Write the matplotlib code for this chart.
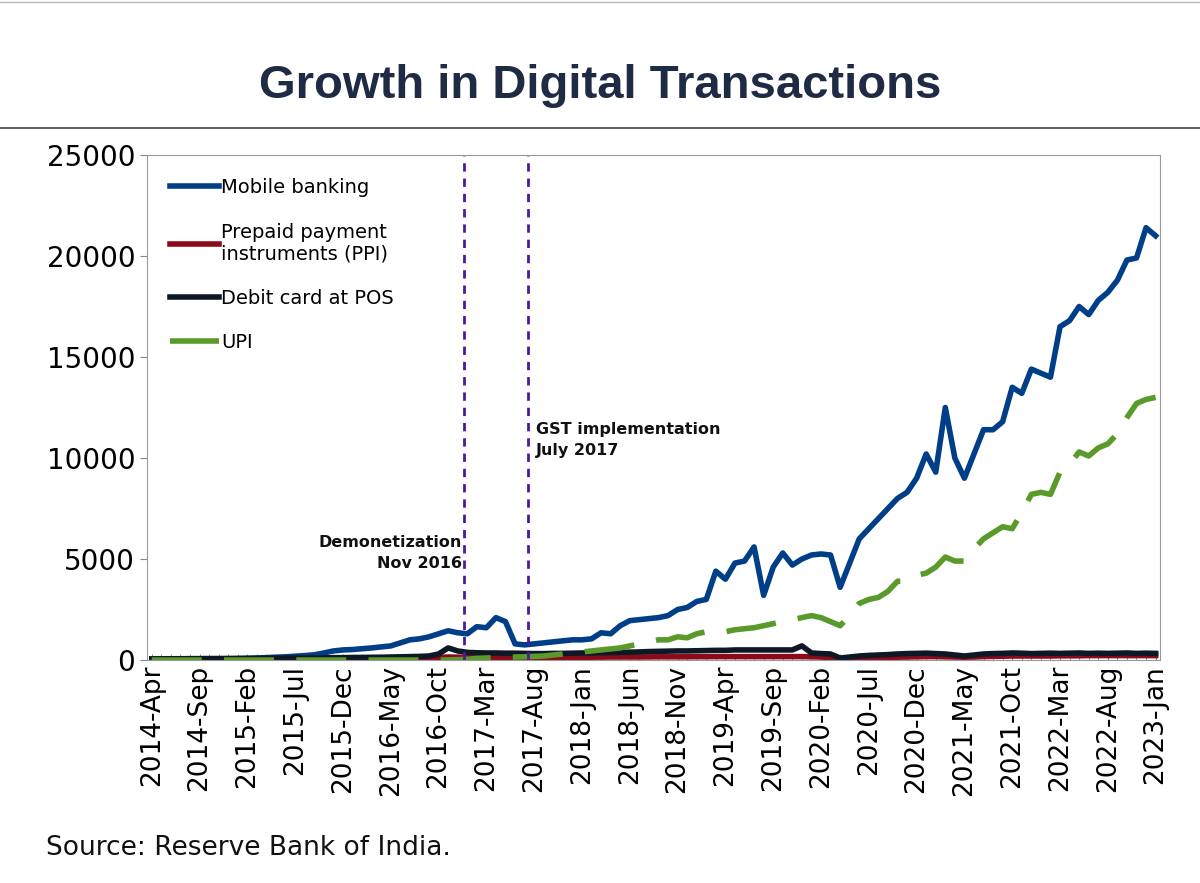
import numpy as np
import pandas as pd
import matplotlib
matplotlib.use("Agg")
import matplotlib.pyplot as plt

months = pd.date_range("2014-04-01", "2023-01-01", freq="MS")
month_labels = [d.strftime("%Y-%b") for d in months]

mobile_banking = [20, 25, 30, 35, 40, 45, 50, 55, 60, 70,
                  80, 100, 120, 140, 160, 190, 220, 260, 350, 450,
                  500, 520, 560, 600, 650, 700, 850, 1000, 1050, 1150,
                  1300, 1450, 1350, 1300, 1650, 1600, 2100, 1900, 800, 750,
                  800, 850, 900, 950, 1000, 1000, 1050, 1350, 1300, 1700,
                  1950, 2000, 2050, 2100, 2200, 2500, 2600, 2900, 3000, 4400,
                  4000, 4800, 4900, 5600, 3200, 4600, 5300, 4700, 5000, 5200,
                  5250, 5200, 3600, 4800, 6000, 6500, 7000, 7500, 8000, 8300,
                  9000, 10200, 9300, 12500, 10000, 9000, 10200, 11400, 11400, 11800,
                  13500, 13200, 14400, 14200, 14000, 16500, 16800, 17500, 17100, 17800,
                  18200, 18800, 19800, 19900, 21400, 21000]

upi = [0] * 28 + [0, 0, 0, 5, 20, 40, 80, 100,
                  120, 130, 150, 160, 180, 200, 250, 300, 350, 400,
                  450, 500, 550, 600, 700, 800, 900, 1000, 1000, 1150,
                  1100, 1300, 1400, 1400, 1400, 1500, 1550, 1600, 1700, 1800,
                  1900, 2000, 2100, 2200, 2100, 1900, 1700, 2200, 2800, 3000,
                  3100, 3400, 3900, 3900, 4200, 4300, 4600, 5100, 4900, 4900,
                  5500, 6000, 6300, 6600, 6500, 7300, 8200, 8300, 8200, 9300,
                  9700, 10300, 10100, 10500, 10700, 11200, 12000, 12700, 12900, 13000]

debit_pos = [60, 60, 65, 65, 70, 70, 75, 75, 80, 80,
             85, 85, 90, 90, 95, 100, 100, 105, 110, 115,
             120, 125, 130, 135, 140, 150, 160, 170, 180, 200,
             300, 600, 450, 380, 360, 350, 350, 340, 340, 330,
             320, 320, 330, 330, 340, 350, 350, 360, 370, 380,
             390, 400, 420, 430, 440, 450, 450, 460, 470, 480,
             480, 500, 500, 500, 500, 500, 500, 500, 700, 350,
             320, 300, 100, 150, 200, 230, 250, 270, 300, 320,
             330, 340, 320, 300, 250, 200, 250, 300, 320, 330,
             350, 340, 320, 330, 340, 330, 340, 350, 330, 340,
             330, 340, 350, 330, 340, 330]

ppi = [20, 20, 22, 22, 25, 25, 28, 28, 30, 30,
       32, 32, 35, 35, 38, 40, 42, 45, 48, 50,
       55, 60, 65, 70, 75, 80, 85, 90, 100, 110,
       130, 150, 140, 130, 130, 125, 120, 120, 120, 120,
       120, 125, 130, 130, 135, 140, 140, 145, 150, 150,
       150, 150, 155, 160, 160, 160, 160, 165, 165, 170,
       170, 170, 170, 170, 170, 170, 170, 170, 170, 160,
       150, 120, 60, 80, 100, 110, 120, 130, 140, 150,
       160, 170, 170, 160, 150, 140, 150, 170, 180, 190,
       200, 200, 200, 200, 200, 210, 210, 210, 220, 220,
       220, 220, 220, 220, 220, 220]

demonetization_pos = 32.7
gst_pos = 39.4

fig = plt.figure(figsize=(12, 8.83), dpi=100)
fig.text(0.5, 0.903, "Growth in Digital Transactions", ha="center", va="center",
         fontsize=34, fontweight="bold", color="#1f2a44", family="Liberation Sans")
fig.add_artist(plt.Line2D([0, 1], [0.855, 0.855], color="#444444", lw=1.2))
fig.add_artist(plt.Line2D([0, 1], [0.998, 0.998], color="#bbbbbb", lw=1))

ax = fig.add_axes([0.1225, 0.2525, 0.8445, 0.572])
x = np.arange(len(months))
ax.plot(x, mobile_banking, color="#003f87", lw=4, label="Mobile banking")
ax.plot(x, ppi, color="#8b0a1a", lw=4, label="Prepaid payment\ninstruments (PPI)")
ax.plot(x, debit_pos, color="#0d1826", lw=4, label="Debit card at POS")
ax.plot(x, upi, color="#5a9a2a", lw=4, ls=(0, (9, 4)), label="UPI")

ax.axvline(demonetization_pos, color="#4b1a9a", lw=2, ls=(0, (3, 2.5)))
ax.axvline(gst_pos, color="#4b1a9a", lw=2, ls=(0, (3, 2.5)))
ax.text(demonetization_pos - 0.3, 4400, "Demonetization\nNov 2016", ha="right",
        va="bottom", fontsize=11.5, fontweight="bold", color="#111111", linespacing=1.5)
ax.text(gst_pos + 0.8, 10000, "GST implementation\nJuly 2017", ha="left",
        va="bottom", fontsize=11.5, fontweight="bold", color="#111111", linespacing=1.5)

ax.set_xlim(-0.5, len(months) - 0.5)
ax.set_ylim(0, 25000)
ax.set_yticks(range(0, 25001, 5000))
ax.set_xticks(x[::5])
ax.set_xticklabels(month_labels[::5], rotation=90, fontsize=19)
ax.set_xticks(x, minor=True)
ax.tick_params(axis="x", which="both", direction="in", length=4, color="#888888")
ax.tick_params(axis="y", labelsize=20, direction="out", length=5, color="#888888")
for s in ax.spines.values():
    s.set_color("#999999")

leg = ax.legend(loc="upper left", frameon=False, fontsize=14, handlelength=2.5,
                labelspacing=1.3, handletextpad=0.1, borderaxespad=0.8)

fig.text(0.038, 0.032, "Source: Reserve Bank of India.", fontsize=19, color="#111111")
fig.savefig("out.png", dpi=100)
